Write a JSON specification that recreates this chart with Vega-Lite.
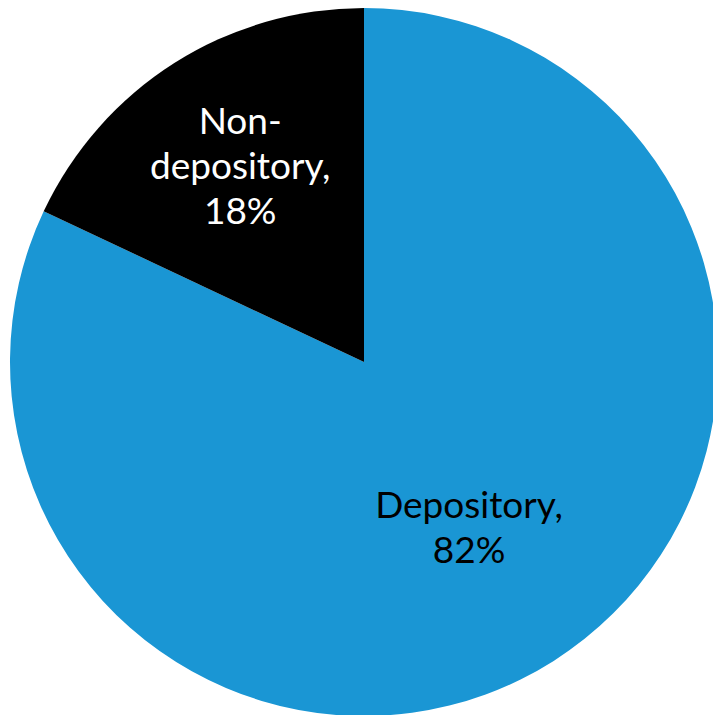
{
  "$schema": "https://vega.github.io/schema/vega-lite/v6.json",
  "width": 698,
  "height": 706,
  "padding": {"left": 15, "top": 9, "right": 0, "bottom": 0},
  "autosize": {"type": "none"},
  "background": "white",
  "view": {"stroke": null},
  "data": {"values": [
    {"category": "Depository", "share": 82, "label": "Depository,\n82%"},
    {"category": "Non-depository", "share": 18, "label": "Non-\ndepository,\n18%"}
  ]},
  "encoding": {
    "theta": {"field": "share", "type": "quantitative", "stack": true},
    "order": {"field": "category", "type": "nominal"}
  },
  "layer": [
    {
      "mark": {"type": "arc", "outerRadius": 354},
      "encoding": {
        "color": {"field": "category", "type": "nominal", "legend": null,
          "scale": {"domain": ["Depository", "Non-depository"], "range": ["#1A96D4", "#000000"]}}
      }
    },
    {
      "mark": {"type": "text",
        "radius": {"expr": "datum.category == 'Depository' ? 196 : 231"},
        "dy": {"expr": "datum.category == 'Depository' ? -20 : -44"},
        "color": {"expr": "datum.category == 'Depository' ? '#000000' : '#ffffff'"},
        "font": "Lato", "fontSize": 37, "lineBreak": "\n", "lineHeight": 45, "align": "center", "baseline": "middle"},
      "encoding": {"text": {"field": "label"}}
    }
  ]
}
